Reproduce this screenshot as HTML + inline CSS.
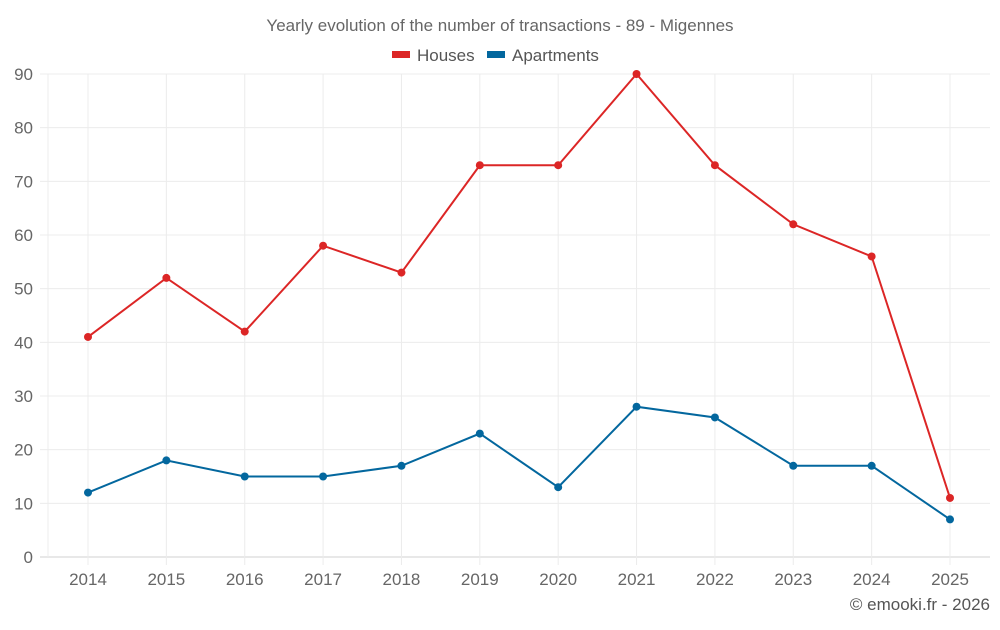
<!DOCTYPE html>
<html><head><meta charset="utf-8"><style>
body{margin:0;background:#fff;font-family:"Liberation Sans",sans-serif}
text{font-family:"Liberation Sans",sans-serif}
</style></head><body>
<svg id="chart" width="1000" height="625">
<text x="500" y="31" text-anchor="middle" font-size="17" fill="#666">Yearly evolution of the number of transactions - 89 - Migennes</text>
<g>
<g><rect x="392" y="51" width="18" height="7" fill="#dc2626"/><text x="417" y="61" font-size="17" fill="#555">Houses</text></g>
<g><rect x="487" y="51" width="18" height="7" fill="#03679e"/><text x="512" y="61" font-size="17" fill="#555">Apartments</text></g>
</g>
<g id="grid"></g>
<g id="axes"></g>
<g id="series"></g>
<text x="990" y="610" text-anchor="end" font-size="17" fill="#555">© emooki.fr - 2026</text>
</svg>
<script>
const years=["2014","2015","2016","2017","2018","2019","2020","2021","2022","2023","2024","2025"];
const houses=[41,52,42,58,53,73,73,90,73,62,56,11];
const apartments=[12,18,15,15,17,23,13,28,26,17,17,7];
const yTicks=[0,10,20,30,40,50,60,70,80,90];
const NS="http://www.w3.org/2000/svg";
const x=i=>88+i*(950-88)/(years.length-1);
const y=v=>557-v*(557-74)/90;
function mk(tag,attrs,parent){const e=document.createElementNS(NS,tag);for(const k in attrs)e.setAttribute(k,attrs[k]);parent.appendChild(e);return e;}
const grid=document.getElementById('grid'),axes=document.getElementById('axes'),series=document.getElementById('series');
yTicks.forEach(t=>{
 const l=mk('line',{x1:40,x2:990,y1:y(t),y2:y(t),stroke:t===0?'#d0d0d0':'#ececec','stroke-width':1},grid);
 
 
 const tx=mk('text',{x:33,y:y(t)+6,'text-anchor':'end','font-size':17,fill:'#666'},axes);
 tx.textContent=t;
 
 
});
const vl=mk('line',{x1:48,x2:48,y1:74,y2:557,stroke:'#ececec'},grid);


years.forEach((yr,i)=>{
 const l=mk('line',{x1:x(i),x2:x(i),y1:74,y2:565,stroke:'#ececec'},grid);
 
 
 const tx=mk('text',{x:x(i),y:585,'text-anchor':'middle','font-size':17,fill:'#666'},axes);
 tx.textContent=yr;
 
 
});
function draw(vals,color,name){
 const p=mk('polyline',{points:vals.map((v,i)=>x(i)+','+y(v)).join(' '),fill:'none',stroke:color,'stroke-width':2},series);
 
 
 vals.forEach((v,i)=>{
  const c=mk('circle',{cx:x(i),cy:y(v),r:4,fill:color},series);
  
  
 });
}
draw(houses,'#dc2626','houses');
draw(apartments,'#03679e','apartments');
</script>
</body></html>
